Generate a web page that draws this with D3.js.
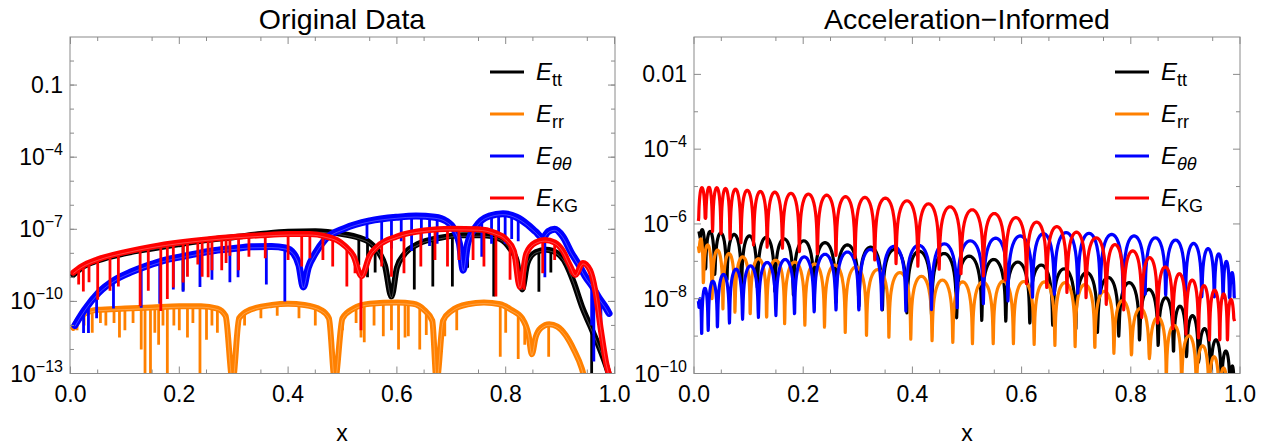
<!DOCTYPE html>
<html><head><meta charset="utf-8">
<script src="https://cdn.jsdelivr.net/npm/d3@7"></script>
<style>
body{margin:0;background:#fff;}
text{font-family:"Liberation Sans",Arial,Helvetica,sans-serif;fill:#000;}
</style></head><body>
<svg id="chart" width="1273" height="445"></svg>
<script>
// ---------------- DATA (values stored as log10 exponents) ----------------
const seriesKeys = ["tt", "rr", "th", "kg"];
const seriesColors = ["#000000", "#ff8000", "#0000ff", "#ff0000"];
const xTickValues = [0, 0.2, 0.4, 0.6, 0.8, 1.0];
const xTickLabels = ["0.0", "0.2", "0.4", "0.6", "0.8", "1.0"];
const leftYTickExps = [-13, -10, -7, -4, -1];
const rightYTickExps = [-10, -8, -6, -4, -2];

// ---- Left panel "Original Data": band centre lines ----
const origTtX = [0.005,0.02,0.05,0.1,0.15,0.2,0.25,0.3,0.35,0.4,0.45,0.5,0.53,0.55,0.565,0.578,0.59,0.6,0.615,0.64,0.68,0.72,0.76,0.79,0.808,0.82,0.83,0.84,0.855,0.875,0.895,0.91,0.925,0.94,0.955,0.97,0.985,0.992];
const origTtLog = [-8.9,-8.6,-8.3,-8.0,-7.8,-7.62,-7.45,-7.33,-7.2,-7.1,-7.08,-7.2,-7.35,-7.55,-7.9,-8.5,-9.8,-8.6,-8.0,-7.6,-7.35,-7.25,-7.25,-7.4,-7.8,-8.3,-9.5,-8.4,-7.95,-7.85,-8.0,-8.4,-9.2,-10.2,-11.0,-11.8,-12.7,-13.2];
const origRrX = [0.005,0.02,0.05,0.1,0.15,0.2,0.24,0.27,0.285,0.298,0.31,0.33,0.37,0.4,0.43,0.46,0.475,0.486,0.5,0.52,0.55,0.6,0.63,0.65,0.665,0.673,0.685,0.7,0.73,0.76,0.79,0.81,0.83,0.842,0.848,0.855,0.865,0.88,0.895,0.91,0.925,0.94,0.946];
const origRrLog = [-11.1,-10.6,-10.35,-10.3,-10.25,-10.2,-10.2,-10.3,-10.6,-13.3,-10.7,-10.35,-10.15,-10.1,-10.15,-10.35,-10.7,-13.3,-10.7,-10.3,-10.1,-10.05,-10.1,-10.35,-10.8,-13.3,-10.8,-10.4,-10.12,-10.05,-10.12,-10.35,-10.7,-11.4,-12.2,-11.5,-11.1,-10.95,-11.05,-11.4,-12.0,-12.8,-13.3];
const origThX = [0.008,0.026,0.051,0.082,0.112,0.143,0.174,0.204,0.235,0.266,0.3,0.333,0.37,0.395,0.41,0.42,0.428,0.437,0.45,0.467,0.505,0.55,0.6,0.635,0.67,0.69,0.705,0.715,0.722,0.73,0.745,0.77,0.795,0.82,0.84,0.855,0.868,0.878,0.89,0.905,0.92,0.935,0.946,0.96,0.97,0.985,0.99];
const origThLog = [-11.0,-10.35,-9.65,-9.1,-8.77,-8.5,-8.28,-8.14,-8.0,-7.88,-7.8,-7.73,-7.72,-7.78,-8.0,-8.5,-9.4,-8.6,-8.0,-7.45,-6.95,-6.65,-6.5,-6.45,-6.5,-6.65,-7.0,-7.6,-8.7,-7.6,-6.9,-6.45,-6.35,-6.5,-6.8,-7.1,-7.35,-7.1,-7.0,-7.3,-7.95,-8.5,-8.95,-9.4,-9.8,-10.3,-10.5];
const origKgX = [0.005,0.02,0.05,0.1,0.15,0.2,0.25,0.3,0.35,0.4,0.44,0.47,0.49,0.505,0.52,0.535,0.55,0.565,0.6,0.65,0.7,0.75,0.78,0.8,0.815,0.826,0.838,0.855,0.872,0.89,0.905,0.918,0.928,0.942,0.955,0.965,0.975,0.985,0.992];
const origKgLog = [-8.8,-8.55,-8.25,-7.95,-7.72,-7.55,-7.42,-7.32,-7.25,-7.2,-7.2,-7.3,-7.45,-7.7,-8.1,-8.95,-8.1,-7.7,-7.3,-7.05,-6.98,-7.0,-7.15,-7.4,-7.9,-9.4,-8.0,-7.55,-7.45,-7.55,-7.9,-8.5,-8.9,-8.4,-8.7,-9.6,-11.2,-12.6,-13.2];

// ---- Left panel: downward spikes [x, bottom log10] ----
const origTtSpikes = [[0.207,-9.55],[0.53,-8.5],[0.546,-9.0],[0.56,-8.8],[0.632,-9.5],[0.666,-9.38],[0.702,-9.38],[0.73,-8.6],[0.778,-9.8],[0.861,-9.6],[0.883,-8.8],[0.958,-13.3]];
const origRrSpikes = [[0.012,-11.2],[0.025,-11.0],[0.04,-11.3],[0.055,-10.9],[0.065,-11.0],[0.08,-10.9],[0.09,-11.5],[0.1,-11.2],[0.115,-10.9],[0.13,-12.0],[0.137,-13.3],[0.147,-13.3],[0.155,-11.3],[0.162,-11.8],[0.17,-11.0],[0.178,-13.3],[0.19,-11.0],[0.2,-11.2],[0.215,-11.5],[0.225,-10.9],[0.238,-13.3],[0.25,-11.6],[0.26,-11.0],[0.27,-11.3],[0.32,-11.0],[0.35,-10.7],[0.38,-10.6],[0.42,-10.7],[0.45,-11.0],[0.5,-11.2],[0.525,-10.9],[0.534,-11.5],[0.54,-11.7],[0.558,-11.0],[0.575,-11.45],[0.59,-11.2],[0.603,-12.0],[0.615,-11.5],[0.621,-11.45],[0.642,-12.0],[0.654,-11.4],[0.688,-11.45],[0.71,-11.2],[0.79,-12.3],[0.8,-11.3],[0.823,-12.4],[0.835,-11.8],[0.879,-12.3]];
const origThSpikes = [[0.024,-11.31],[0.033,-11.31],[0.048,-10.7],[0.079,-10.3],[0.13,-10.26],[0.164,-10.1],[0.189,-9.5],[0.207,-9.6],[0.238,-9.4],[0.26,-9.1],[0.293,-9.2],[0.308,-9.0],[0.36,-9.3],[0.394,-10.0],[0.545,-7.4],[0.572,-7.6],[0.59,-7.8],[0.608,-7.5],[0.627,-7.9],[0.645,-7.5],[0.66,-7.7],[0.674,-7.6],[0.756,-8.14],[0.774,-7.6],[0.787,-7.3],[0.799,-7.6],[0.811,-7.4],[0.823,-7.5],[0.872,-9.0],[0.958,-11.0],[0.962,-12.5],[0.975,-11.5]];
const origKgSpikes = [[0.015,-9.3],[0.0236,-9.59],[0.034,-9.2],[0.05,-9.93],[0.0726,-9.56],[0.088,-9.38],[0.128,-10.2],[0.143,-9.56],[0.166,-10.4],[0.178,-9.9],[0.189,-9.42],[0.207,-9.21],[0.215,-8.97],[0.234,-8.46],[0.242,-8.97],[0.253,-9.0],[0.26,-8.7],[0.278,-8.7],[0.286,-8.4],[0.293,-8.1],[0.309,-8.7],[0.328,-8.14],[0.358,-8.2],[0.4,-8.28],[0.425,-8.55],[0.44,-8.2],[0.464,-8.28],[0.482,-8.55],[0.508,-9.38],[0.523,-8.83],[0.534,-11.2],[0.572,-8.55],[0.59,-8.97],[0.613,-8.83],[0.644,-8.55],[0.67,-8.28],[0.693,-8.55],[0.714,-8.28],[0.74,-8.28],[0.76,-8.55],[0.782,-9.8],[0.808,-9.1],[0.834,-9.52],[0.868,-8.83],[0.89,-8.28],[0.92,-8.83]];

// ---- Right panel "Acceleration-Informed": arch zeros, cusp depths, arch peaks ----
const accTtZeros = [0.009,0.021,0.038,0.06,0.087,0.116,0.148,0.182,0.22,0.26,0.302,0.345,0.39,0.435,0.481,0.527,0.571,0.615,0.657,0.699,0.739,0.778,0.816,0.85,0.878,0.902,0.924,0.946,0.966,0.982,0.99];
const accTtDips = [-6.2,-7.2,-7.35,-7.5,-7.6,-7.7,-7.8,-7.9,-8.0,-8.1,-8.2,-8.3,-8.38,-8.42,-8.51,-8.58,-8.6,-8.65,-8.71,-8.8,-8.9,-9.0,-9.1,-9.25,-9.4,-9.55,-9.7,-9.9,-10.2,-10.5,-10.5];
const accTtPeaks = [-6.15,-6.2,-6.24,-6.28,-6.32,-6.36,-6.4,-6.45,-6.5,-6.56,-6.62,-6.68,-6.73,-6.79,-6.86,-6.95,-7.02,-7.1,-7.2,-7.3,-7.43,-7.57,-7.75,-7.97,-8.2,-8.45,-8.8,-9.1,-9.4,-9.8];
const accRrZeros = [0.008,0.017,0.033,0.053,0.075,0.103,0.133,0.166,0.203,0.239,0.277,0.316,0.357,0.397,0.436,0.474,0.51,0.548,0.585,0.623,0.661,0.698,0.734,0.769,0.801,0.834,0.865,0.893,0.92,0.943,0.962,0.978];
const accRrDips = [-6.6,-7.57,-8.0,-8.27,-8.36,-8.4,-8.49,-8.67,-8.71,-8.76,-8.9,-8.98,-9.03,-9.08,-9.12,-9.17,-9.2,-9.2,-9.2,-9.22,-9.25,-9.28,-9.3,-9.46,-9.5,-9.6,-10.2,-10.5,-10.5,-10.5,-10.5,-10.5];
const accRrPeaks = [-6.4,-6.56,-6.7,-6.79,-6.88,-6.93,-6.97,-7.02,-7.07,-7.1,-7.15,-7.22,-7.3,-7.4,-7.5,-7.55,-7.55,-7.53,-7.54,-7.55,-7.57,-7.62,-7.8,-8.05,-8.26,-8.5,-8.71,-8.99,-9.26,-9.55,-9.85];
const accThZeros = [0.008,0.014,0.026,0.043,0.065,0.089,0.118,0.15,0.184,0.22,0.26,0.302,0.344,0.388,0.435,0.482,0.53,0.575,0.62,0.66,0.703,0.744,0.786,0.826,0.864,0.9,0.93,0.953,0.969,0.981,0.99];
const accThDips = [-8.06,-8.93,-8.85,-8.75,-8.65,-8.55,-8.5,-8.45,-8.4,-8.35,-8.3,-8.3,-8.29,-8.33,-8.29,-8.24,-8.13,-8.06,-7.96,-7.88,-7.85,-7.85,-7.9,-7.88,-7.9,-7.92,-7.95,-7.95,-7.97,-7.98,-7.98];
const accThPeaks = [-8.0,-7.72,-7.53,-7.35,-7.21,-7.12,-7.03,-6.95,-6.88,-6.81,-6.75,-6.68,-6.6,-6.57,-6.53,-6.45,-6.38,-6.32,-6.26,-6.23,-6.25,-6.28,-6.32,-6.37,-6.43,-6.52,-6.66,-6.8,-7.0,-7.3];
const accKgZeros = [0.008,0.021,0.034,0.0495,0.066,0.086,0.109,0.134,0.162,0.193,0.226,0.26,0.295,0.331,0.37,0.41,0.449,0.489,0.53,0.57,0.609,0.646,0.683,0.718,0.755,0.787,0.82,0.849,0.877,0.901,0.924,0.944,0.963,0.977,0.99];
const accKgDips = [-5.92,-5.85,-6.2,-6.25,-6.4,-6.5,-6.56,-6.62,-6.65,-6.74,-6.8,-6.84,-6.9,-6.96,-7.06,-7.13,-7.21,-7.33,-7.39,-7.5,-7.6,-7.7,-7.83,-7.97,-8.15,-8.3,-8.5,-8.65,-8.8,-8.95,-9.05,-9.1,-9.1,-9.1,-8.6];
const accKgPeaks = [-5.03,-5.02,-5.03,-5.05,-5.07,-5.1,-5.13,-5.15,-5.18,-5.2,-5.23,-5.27,-5.29,-5.31,-5.38,-5.46,-5.54,-5.62,-5.72,-5.83,-5.95,-6.07,-6.22,-6.37,-6.55,-6.72,-6.9,-7.15,-7.33,-7.5,-7.65,-7.77,-7.87,-8.02];

// arch glyph shape: fraction of arch width -> drop below peak (decades)
const ARCH_T =    [0.002,0.005,0.01,0.02,0.035,0.05,0.075,0.1,0.15,0.2,0.25,0.3,0.35,0.4,0.45,0.5];
const ARCH_DROP = [-2.2,-1.8,-1.5,-1.2,-0.96,-0.806,-0.632,-0.51,-0.343,-0.231,-0.151,-0.092,-0.05,-0.022,-0.0054,0];

// ---------------- LAYOUT ----------------
const svg = d3.select("#chart");
const FRAME = "#8a8a8a";
const TICK_FONT = 23, SUP_FONT = 16;
const panels = [
  { title: "Original Data", xr: [70.5, 614.5], frame: [70, 37, 615, 373.5], yDom: [1e-13, 10],
    major: leftYTickExps, minor: d3.range(-12, 1), legendX: 490, xLabel: 342 },
  { title: "Acceleration\u2212Informed", xr: [694, 1240], frame: [694, 37, 1240, 373.5], yDom: [1e-10, 1e-1],
    major: rightYTickExps, minor: [-9, -7, -5, -3], legendX: 1115, xLabel: 967 }
];

panels.forEach((p, pi) => {
  p.x = d3.scaleLinear().domain([0, 1]).range(p.xr);
  p.y = d3.scaleLog().domain(p.yDom).range([p.frame[3], p.frame[1]]);
  const g = svg.append("g");
  const clipId = "clip" + pi;
  svg.append("clipPath").attr("id", clipId).append("rect")
    .attr("x", p.frame[0]).attr("y", p.frame[1])
    .attr("width", p.frame[2] - p.frame[0]).attr("height", p.frame[3] - p.frame[1]);
  p.data = g.append("g").attr("clip-path", `url(#${clipId})`);
  p.g = g;
});

// ---------------- LEFT PANEL DATA ----------------
const L = panels[0];
const origBands = [
  [origTtX, origTtLog, origTtSpikes],
  [origRrX, origRrLog, origRrSpikes],
  [origThX, origThLog, origThSpikes],
  [origKgX, origKgLog, origKgSpikes]
];
origBands.forEach(([xs, logs, spikes], i) => {
  const col = seriesColors[i];
  const pts = xs.map((v, k) => [v, logs[k]]);
  const bandAt = d3.scaleLinear().domain(xs).range(logs).clamp(true);
  const line = d3.line().x(d => L.x(d[0])).y(d => L.y(Math.pow(10, d[1]))).curve(d3.curveMonotoneX);
  L.data.append("path").datum(pts).attr("d", line)
    .attr("fill", "none").attr("stroke", col).attr("stroke-width", i === 2 ? 7 : 6)
    .attr("stroke-linejoin", "round").attr("stroke-linecap", "round");
  L.data.selectAll(null).data(spikes).enter().append("line")
    .attr("x1", d => L.x(d[0])).attr("x2", d => L.x(d[0]))
    .attr("y1", d => L.y(Math.pow(10, bandAt(d[0]))))
    .attr("y2", d => L.y(Math.pow(10, d[1])))
    .attr("stroke", col).attr("stroke-width", 2.8);
  L.data.append("path").datum(pts).attr("d", line)
    .attr("fill", "none").attr("stroke", "#fff").attr("stroke-opacity", 0.35).attr("stroke-width", 0.8)
    .attr("transform", "translate(0,1)");
});

// ---------------- RIGHT PANEL DATA ----------------
const R = panels[1];
const accSeries = [
  [accTtZeros, accTtDips, accTtPeaks],
  [accRrZeros, accRrDips, accRrPeaks],
  [accThZeros, accThDips, accThPeaks],
  [accKgZeros, accKgDips, accKgPeaks]
];
const fullT = ARCH_T.concat(ARCH_T.slice(0, -1).reverse().map(t => 1 - t));
const fullDrop = ARCH_DROP.concat(ARCH_DROP.slice(0, -1).reverse());
accSeries.forEach(([zeros, dips, peaks], i) => {
  const pts = [];
  for (let a = 0; a < peaks.length; a++) {
    const x0 = zeros[a], x1 = zeros[a + 1], dL = dips[a], dR = dips[a + 1], pk = peaks[a];
    pts.push([x0, dL]);
    fullT.forEach((t, k) => {
      const v = pk + fullDrop[k];
      const base = dL + (dR - dL) * t;
      if (v > base) pts.push([x0 + t * (x1 - x0), v]);
    });
  }
  pts.push([zeros[zeros.length - 1], dips[dips.length - 1]]);
  const line = d3.line().x(d => R.x(d[0])).y(d => R.y(Math.pow(10, d[1])));
  R.data.append("path").datum(pts).attr("d", line)
    .attr("fill", "none").attr("stroke", seriesColors[i]).attr("stroke-width", 3.2)
    .attr("stroke-linejoin", "round");
});

// ---------------- FRAMES, TICKS, LABELS ----------------
function expLabel(sel, e) {
  if (e === -1) { sel.text("0.1"); return; }
  if (e === -2) { sel.text("0.01"); return; }
  sel.append("tspan").text("10");
  sel.append("tspan").attr("font-size", SUP_FONT).attr("dy", -10).text("\u2212" + Math.abs(e));
}
panels.forEach((p, pi) => {
  const g = p.g, [fx0, fy0, fx1, fy1] = p.frame;
  g.append("rect").attr("x", fx0).attr("y", fy0).attr("width", fx1 - fx0).attr("height", fy1 - fy0)
    .attr("fill", "none").attr("stroke", FRAME).attr("stroke-width", 1);
  const xMinor = d3.range(0.05, 1, 0.1);
  [[xTickValues, 7], [xMinor, 4]].forEach(([vals, len]) => {
    vals.forEach(v => {
      const xx = p.x(v);
      g.append("line").attr("x1", xx).attr("x2", xx).attr("y1", fy1).attr("y2", fy1 - len).attr("stroke", FRAME);
      g.append("line").attr("x1", xx).attr("x2", xx).attr("y1", fy0).attr("y2", fy0 + len).attr("stroke", FRAME);
    });
  });
  g.selectAll(null).data(xTickValues).enter().append("text")
    .attr("x", d => p.x(d)).attr("y", 402).attr("text-anchor", "middle").attr("font-size", TICK_FONT)
    .text((d, k) => xTickLabels[k]);
  [[p.major, 7], [p.minor, 4]].forEach(([vals, len]) => {
    vals.forEach(e => {
      const yy = p.y(Math.pow(10, e));
      g.append("line").attr("x1", fx0).attr("x2", fx0 + len).attr("y1", yy).attr("y2", yy).attr("stroke", FRAME);
      g.append("line").attr("x1", fx1).attr("x2", fx1 - len).attr("y1", yy).attr("y2", yy).attr("stroke", FRAME);
    });
  });
  p.major.forEach(e => {
    const t = g.append("text").attr("x", fx0 - 7).attr("y", p.y(Math.pow(10, e)) + 8)
      .attr("text-anchor", "end").attr("font-size", TICK_FONT);
    expLabel(t, e);
  });
  g.append("text").attr("x", p.xLabel).attr("y", 29).attr("text-anchor", "middle").attr("font-size", 28.5).text(p.title);
  g.append("text").attr("x", p.xLabel).attr("y", 441).attr("text-anchor", "middle").attr("font-size", 23).text("x");
  const subs = [["tt", false], ["rr", false], ["\u03b8\u03b8", true], ["KG", false]];
  const rowsY = [72, 114, 156, 198];
  seriesKeys.forEach((k, i) => {
    const yy = rowsY[i];
    g.append("line").attr("x1", p.legendX).attr("x2", p.legendX + 34).attr("y1", yy).attr("y2", yy)
      .attr("stroke", seriesColors[i]).attr("stroke-width", 3);
    const t = g.append("text").attr("x", p.legendX + 46).attr("y", yy + 8).attr("font-size", 24);
    t.append("tspan").attr("font-style", "italic").text("E");
    t.append("tspan").attr("font-size", 18).attr("dy", 6)
      .attr("font-style", subs[i][1] ? "italic" : "normal").text(subs[i][0]);
  });
});
</script>
</body></html>
